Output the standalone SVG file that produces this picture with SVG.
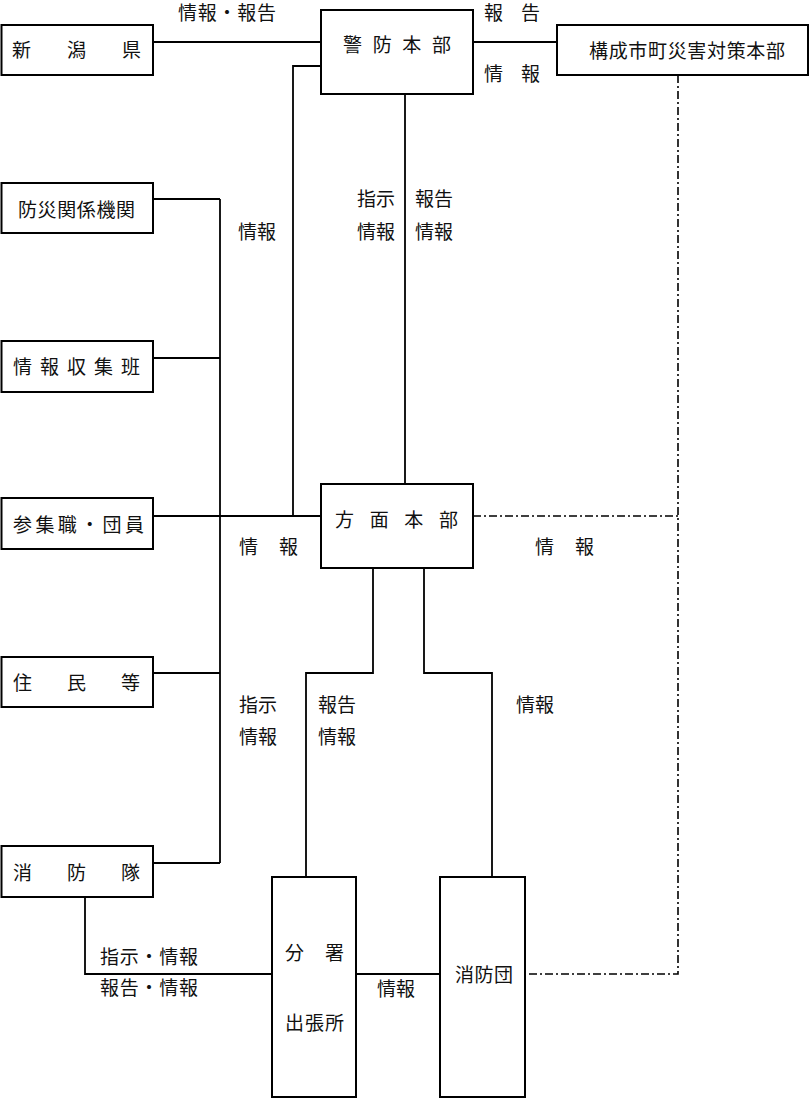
<svg xmlns="http://www.w3.org/2000/svg" width="811" height="1098" viewBox="0 0 811 1098">
<style>
.box{fill:#fff;stroke:#000;stroke-width:2}
.ln{fill:none;stroke:#000;stroke-width:1.8}
.dd{fill:none;stroke:#000;stroke-width:1.6;stroke-dasharray:8 3 2 3}
text{font-family:"Noto Sans CJK JP","Noto Sans CJK SC",sans-serif;font-size:19px;fill:#111}
</style>
<rect width="811" height="1098" fill="#fff"/>
<g id="connectors">
<path class="ln" d="M153 42H321"/>
<path class="ln" d="M473 42H557"/>
<path class="ln" d="M321 66H293V516"/>
<path class="ln" d="M405 94V484"/>
<path class="ln" d="M220 199V863"/>
<path class="ln" d="M153 199H220M153 358H220M153 516H321M153 673H220M153 863H220"/>
<path class="ln" d="M373 568V673H306V877"/>
<path class="ln" d="M424 568V673H492V877"/>
<path class="ln" d="M85 897V974H272"/>
<path class="ln" d="M356 974H440"/>
<path class="dd" d="M678 75V974H525"/>
<path class="dd" d="M473 516H678"/>
</g>
<g id="labels">
<text x="178" y="20" textLength="98" lengthAdjust="spacing">情報・報告</text>
<text x="484" y="20" textLength="56" lengthAdjust="spacing">報告</text>
<text x="484" y="81" textLength="56" lengthAdjust="spacing">情報</text>
<text x="238" y="239">情報</text>
<text x="357" y="206">指示</text>
<text x="357" y="239">情報</text>
<text x="415" y="206">報告</text>
<text x="415" y="239">情報</text>
<text x="239" y="554" textLength="59" lengthAdjust="spacing">情報</text>
<text x="535" y="554" textLength="59" lengthAdjust="spacing">情報</text>
<text x="239" y="712">指示</text>
<text x="239" y="744">情報</text>
<text x="318" y="712">報告</text>
<text x="318" y="744">情報</text>
<text x="516" y="712">情報</text>
<text x="100" y="964" textLength="98" lengthAdjust="spacing">指示・情報</text>
<text x="100" y="995" textLength="98" lengthAdjust="spacing">報告・情報</text>
<text x="377" y="996">情報</text>
</g>
<g id="niigata"><rect class="box" x="1.5" y="25" width="151.5" height="50"/><text x="12" y="57" textLength="129" lengthAdjust="spacing">新潟県</text></g>
<g id="keibo"><rect class="box" x="321" y="10" width="152" height="84"/><text x="343" y="52" textLength="108" lengthAdjust="spacing">警防本部</text></g>
<g id="kosei"><rect class="box" x="557" y="25" width="251" height="50"/><text x="589" y="58" textLength="196" lengthAdjust="spacing">構成市町災害対策本部</text></g>
<g id="bousai"><rect class="box" x="1.5" y="183" width="151.5" height="50"/><text x="18" y="217" textLength="117" lengthAdjust="spacing">防災関係機関</text></g>
<g id="joho"><rect class="box" x="1.5" y="341" width="151.5" height="51"/><text x="13" y="374" textLength="127" lengthAdjust="spacing">情報収集班</text></g>
<g id="sanshu"><rect class="box" x="1.5" y="498" width="151.5" height="51"/><text x="13" y="532" textLength="131" lengthAdjust="spacing">参集職・団員</text></g>
<g id="jumin"><rect class="box" x="1.5" y="657" width="151.5" height="50"/><text x="13" y="690" textLength="127" lengthAdjust="spacing">住民等</text></g>
<g id="shobotai"><rect class="box" x="1.5" y="846" width="151.5" height="51"/><text x="13" y="880" textLength="127" lengthAdjust="spacing">消防隊</text></g>
<g id="homen"><rect class="box" x="321" y="484" width="152" height="84"/><text x="335" y="527" textLength="123" lengthAdjust="spacing">方面本部</text></g>
<g id="bunsho"><rect class="box" x="272" y="877" width="84" height="220"/><text x="285" y="960" textLength="59" lengthAdjust="spacing">分署</text><text x="285" y="1030" textLength="59" lengthAdjust="spacing">出張所</text></g>
<g id="shobodan"><rect class="box" x="440" y="877" width="85" height="220"/><text x="455" y="982" textLength="58" lengthAdjust="spacing">消防団</text></g>
</svg>
